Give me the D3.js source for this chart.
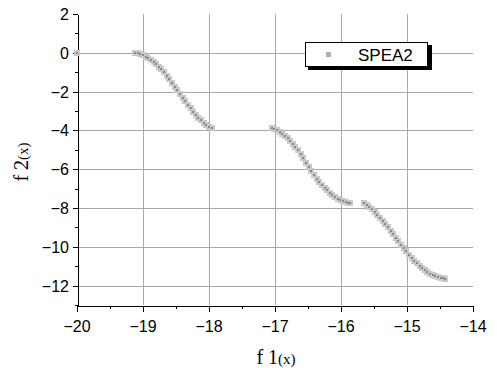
<!DOCTYPE html>
<html>
<head>
<meta charset="utf-8">
<script src="https://cdn.jsdelivr.net/npm/d3@7"></script>
<style>
  body { margin: 0; background: #fff; }
  svg { display: block; }
  .tickLabel { font-family: 'Liberation Sans', Arial, sans-serif; font-size: 16px; fill: #000; }
  .axisTitle { font-family: 'Liberation Serif', 'DejaVu Serif', serif; fill: #000; }
</style>
</head>
<body>
<svg id="chart" width="497" height="368"></svg>
<script>
// SPEA2 front
const f1 = [
  -20.00,
  -19.12, -19.08, -19.04, -19.00, -18.96, -18.92, -18.88, -18.84, -18.80, -18.76,
  -18.72, -18.68, -18.64, -18.60, -18.56, -18.52, -18.48, -18.44, -18.40, -18.36,
  -18.32, -18.28, -18.24, -18.20, -18.16, -18.12, -18.08, -18.04, -18.00, -17.96,
  -17.05, -17.01, -16.97, -16.93, -16.89, -16.85, -16.81, -16.77, -16.73, -16.69,
  -16.65, -16.61, -16.57, -16.53, -16.49, -16.45, -16.41, -16.37, -16.33, -16.29,
  -16.25, -16.21, -16.17, -16.13, -16.09, -16.05, -16.01, -15.97, -15.93, -15.89, -15.86,
  -15.65, -15.61, -15.57, -15.53, -15.49, -15.45, -15.41, -15.37, -15.33, -15.29,
  -15.25, -15.21, -15.17, -15.13, -15.09, -15.05, -15.01, -14.97, -14.93, -14.89,
  -14.85, -14.81, -14.77, -14.73, -14.69, -14.65, -14.61, -14.57, -14.53, -14.49, -14.45, -14.42
];
const f2 = [
  0.00,
  0.00, -0.03, -0.07, -0.13, -0.20, -0.28, -0.37, -0.47, -0.59, -0.72,
  -0.86, -1.01, -1.18, -1.36, -1.55, -1.75, -1.94, -2.13, -2.32, -2.50,
  -2.68, -2.86, -3.03, -3.19, -3.34, -3.48, -3.60, -3.71, -3.80, -3.86,
  -3.87, -3.92, -3.99, -4.07, -4.16, -4.27, -4.40, -4.54, -4.69, -4.85,
  -5.03, -5.23, -5.44, -5.67, -5.89, -6.09, -6.29, -6.48, -6.65, -6.81,
  -6.96, -7.09, -7.21, -7.33, -7.43, -7.52, -7.59, -7.65, -7.69, -7.72, -7.74,
  -7.73, -7.82, -7.93, -8.06, -8.20, -8.35, -8.51, -8.67, -8.83, -9.00,
  -9.17, -9.36, -9.54, -9.72, -9.89, -10.06, -10.23, -10.40, -10.56, -10.71,
  -10.85, -10.98, -11.10, -11.21, -11.31, -11.39, -11.46, -11.52, -11.57, -11.61, -11.63, -11.65
];
const seriesName = 'SPEA2';
const xTicks = [-20, -19, -18, -17, -16, -15, -14];
const yTicks = [2, 0, -2, -4, -6, -8, -10, -12];

const svg = d3.select('#chart');
const plot = { left: 77, right: 473, top: 14, bottom: 305 };

const x = d3.scaleLinear().domain([-20, -14]).range([plot.left, plot.right]);
const y = d3.scaleLinear().domain([-13, 2]).range([plot.bottom, plot.top]);

const points = f1.map((v, i) => ({ x: v, y: f2[i] }));
const fmt = (d) => (d < 0 ? '\u2212' + Math.abs(d) : String(d));

// grid lines
const grid = svg.append('g').attr('class', 'grid').attr('shape-rendering', 'crispEdges');
grid
  .selectAll('line.xGrid')
  .data(xTicks.filter((d) => d > -20 && d < -14))
  .enter()
  .append('line')
  .attr('x1', (d) => Math.round(x(d)) + 0.5)
  .attr('x2', (d) => Math.round(x(d)) + 0.5)
  .attr('y1', plot.top)
  .attr('y2', plot.bottom)
  .style('stroke', '#a8a8a8');
grid
  .selectAll('line.yGrid')
  .data(yTicks.filter((d) => d < 2))
  .enter()
  .append('line')
  .attr('x1', plot.left)
  .attr('x2', plot.right)
  .attr('y1', (d) => Math.round(y(d)) + 0.5)
  .attr('y2', (d) => Math.round(y(d)) + 0.5)
  .style('stroke', '#a8a8a8');

// axes
const xAxis = d3.axisBottom(x).tickValues(d3.range(-20, -13.9, 0.5)).tickSize(3).tickSizeOuter(0).tickFormat('');
const yAxis = d3.axisLeft(y).tickValues(d3.range(-13, 2.1, 1)).tickSize(3).tickSizeOuter(0).tickFormat('');

const gx = svg.append('g').attr('transform', `translate(0,${plot.bottom + 0.5})`).call(xAxis);
const gy = svg.append('g').attr('transform', `translate(${plot.left + 0.5},0)`).call(yAxis);
[gx, gy].forEach((g) => {
  g.select('.domain').attr('stroke', '#000');
  g.selectAll('.tick line').attr('stroke', '#000');
  g.attr('shape-rendering', 'crispEdges');
});
gx.selectAll('.tick')
  .filter((d) => Number.isInteger(d))
  .select('line')
  .attr('y2', 6);
gy.selectAll('.tick')
  .filter((d) => d % 2 === 0)
  .select('line')
  .attr('x2', -5);

// tick labels
svg
  .selectAll('text.xLabel')
  .data(xTicks)
  .enter()
  .append('text')
  .attr('class', 'tickLabel')
  .attr('x', (d) => x(d))
  .attr('y', 332)
  .attr('text-anchor', 'middle')
  .text(fmt);
svg
  .selectAll('text.yLabel')
  .data(yTicks)
  .enter()
  .append('text')
  .attr('class', 'tickLabel')
  .attr('x', 69)
  .attr('y', (d) => y(d) + 6)
  .attr('text-anchor', 'end')
  .text(fmt);

// axis titles
const xTitle = svg.append('text').attr('class', 'axisTitle').attr('x', 276).attr('y', 364).attr('text-anchor', 'middle');
xTitle.append('tspan').style('font-size', '20px').text('f 1');
xTitle.append('tspan').style('font-size', '15px').text('(x)');

const yTitle = svg
  .append('text')
  .attr('class', 'axisTitle')
  .attr('transform', 'translate(28,162) rotate(-90)')
  .attr('text-anchor', 'middle');
yTitle.append('tspan').style('font-size', '20px').text('f 2');
yTitle.append('tspan').style('font-size', '15px').text('(x)');

// markers: light halo then dark core
const marks = svg.append('g').attr('shape-rendering', 'crispEdges');
marks
  .selectAll('rect.halo')
  .data(points)
  .enter()
  .append('rect')
  .attr('x', (d) => x(d.x) - 3)
  .attr('y', (d) => y(d.y) - 3)
  .attr('width', 6)
  .attr('height', 6)
  .style('fill', '#c8c8c8');
marks
  .selectAll('rect.core')
  .data(points)
  .enter()
  .append('rect')
  .attr('x', (d) => x(d.x) - 1)
  .attr('y', (d) => y(d.y) - 1)
  .attr('width', 2)
  .attr('height', 2)
  .style('fill', '#8a8a8a');

// legend
const legend = svg.append('g').attr('shape-rendering', 'crispEdges');
legend.append('rect').attr('x', 308).attr('y', 45).attr('width', 124).attr('height', 25).style('fill', '#000');
legend
  .append('rect')
  .attr('x', 305.5)
  .attr('y', 42.5)
  .attr('width', 122)
  .attr('height', 24)
  .style('fill', '#fff')
  .style('stroke', '#000');
legend.append('rect').attr('x', 326).attr('y', 52).attr('width', 5).attr('height', 5).style('fill', '#b0b0b0');
legend
  .append('text')
  .attr('class', 'tickLabel')
  .style('font-size', '17px')
  .attr('x', 358)
  .attr('y', 61)
  .text(seriesName);
</script>
</body>
</html>
